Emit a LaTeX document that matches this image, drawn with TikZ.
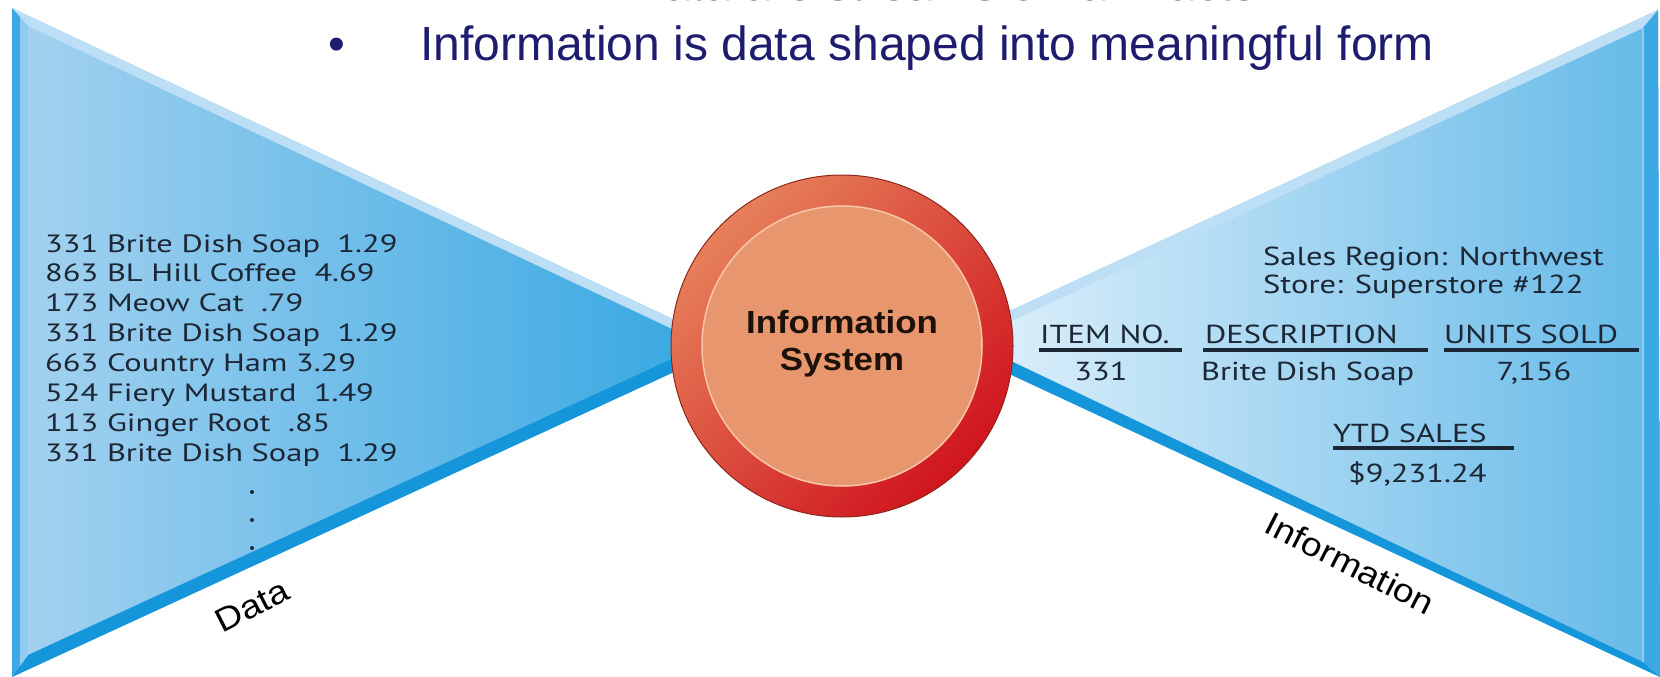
\documentclass[tikz,border=0pt]{standalone}
\usepackage{fontspec}
\setmainfont{Liberation Sans}
\newfontfamily\ptsans{PT Sans}
\usepackage{graphicx}
\definecolor{navy}{RGB}{30,28,110}
\definecolor{txtcol}{RGB}{28,38,52}
\definecolor{lwL}{RGB}{165,210,240}
\definecolor{lwR}{RGB}{55,168,226}
\definecolor{rwL}{RGB}{220,239,250}
\definecolor{rwR}{RGB}{100,185,232}
\definecolor{bandtop}{RGB}{188,223,245}
\definecolor{bandbot}{RGB}{22,150,218}
\definecolor{sideout}{RGB}{60,168,228}
\definecolor{sidein}{RGB}{145,204,240}
\definecolor{ringL}{RGB}{230,128,90}
\definecolor{ringR}{RGB}{208,20,30}
\definecolor{diskcol}{RGB}{232,150,110}
\definecolor{diskrim}{RGB}{248,198,168}
\definecolor{ringedge}{RGB}{140,40,30}
\newcommand{\wx}[1]{\scalebox{1.25}[1]{#1}}
\newcommand{\wdata}[1]{\scalebox{1.3}[1]{#1}}
\newcommand{\wlab}[1]{\scalebox{1.12}[1]{#1}}
\tikzset{
  titletext/.style={inner sep=0pt, text=navy, font=\fontsize{48}{56}\selectfont},
  datatext/.style={inner sep=0pt, anchor=base west, text=txtcol, font=\ptsans\fontsize{25}{30}\selectfont},
  infotext/.style={inner sep=0pt, text=txtcol, font=\ptsans\fontsize{26}{30}\selectfont},
  ulinestyle/.style={line width=3.5pt, draw=txtcol},
  labeltext/.style={inner sep=0pt, text=black, font=\fontsize{33}{36}\selectfont},
  systext/.style={inner sep=0pt, anchor=base, text={rgb,255:red,28;green,18;blue,10}, font=\bfseries\fontsize{32}{37}\selectfont}
}
\begin{document}
\begin{tikzpicture}[x=1pt,y=-1pt]
\useasboundingbox (0,0) rectangle (1660,677);
\begin{scope}
\clip (0,0) rectangle (1660,677);
% title lines
\node[titletext, anchor=base] (frag) at (943,0.5) {Data are streams of raw facts};
\node[titletext, anchor=base west] (bullet) at (328,61) {•};
\node[titletext, anchor=base west] (title) at (420,61) {Information is data shaped into meaningful form};
% left wedge
\shade[left color=lwL, right color=lwR] (12,8) -- (700,332) -- (700,360) -- (12,677) -- cycle;
\fill[bandtop] (12,8) -- (700,332) -- (700,342) -- (28,26) -- cycle;
\fill[bandbot] (12,677) -- (700,360) -- (700,346) -- (28,655) -- cycle;
\fill[sideout] (12,8) -- (20,17) -- (20,666) -- (12,677) -- cycle;
\fill[sidein] (20,17) -- (28,26) -- (28,655) -- (20,666) -- cycle;
% right wedge
\shade[left color=rwL, right color=rwR] (1658,10) -- (990,320) -- (990,365) -- (1660,677) -- cycle;
\fill[bandtop] (1658,10) -- (990,320) -- (990,331) -- (1643,28) -- cycle;
\fill[bandbot] (1660,677) -- (990,365) -- (990,351) -- (1643,662) -- cycle;
\fill[sideout] (1658,10) -- (1643,28) -- (1643,662) -- (1660,677) -- cycle;
\draw[sidein, line width=1.5pt] (1643,28) -- (1643,662);
% circle
\node[circle, minimum size=342pt, inner sep=0pt, outer sep=0pt, top color=ringL, bottom color=ringR, shading angle=45, draw=ringedge, line width=1pt] (sys) at (842,346) {};
\node[circle, minimum size=280pt, inner sep=0pt, outer sep=0pt, fill=diskcol, draw=diskrim, line width=1.5pt] (sysin) at (842,346) {};
\node[systext] (sys1) at (842,333) {\scalebox{1.09}[1]{Information}};
\node[systext] (sys2) at (842,370) {\scalebox{1.09}[1]{System}};
% data list
\foreach \t [count=\i from 0] in {331 Brite Dish Soap~~1.29, 863 BL Hill Coffee~~4.69, 173 Meow Cat~~.79, 331 Brite Dish Soap~~1.29, 663 Country Ham 3.29, 524 Fiery Mustard~~1.49, 113 Ginger Root~~.85, 331 Brite Dish Soap~~1.29}
  \node[datatext] (d\i) at (45,{252+29.9*\i}) {\wdata{\t}};
\fill[txtcol] (252,492) circle[radius=2pt];
\fill[txtcol] (252,520) circle[radius=2pt];
\fill[txtcol] (252,548) circle[radius=2pt];
\node[labeltext, rotate=27] (datalabel) at (252,606) {\wlab{Data}};
% information side
\node[infotext, anchor=base west] (region) at (1263,265) {\wx{Sales Region: Northwest}};
\node[infotext, anchor=base west] (store) at (1263,293) {\wx{Store: Superstore \#122}};
\node[infotext, anchor=base west] (hitem) at (1040,343) {\wx{ITEM NO.}};
\node[infotext, anchor=base west] (hdesc) at (1205,343) {\wx{DESCRIPTION}};
\node[infotext, anchor=base west] (hunits) at (1444,343) {\wx{UNITS SOLD}};
\draw[ulinestyle] (1039,350) -- (1182,350);
\draw[ulinestyle] (1203,350) -- (1428,350);
\draw[ulinestyle] (1444,350) -- (1639,350);
\node[infotext, anchor=base] (vitem) at (1101,380) {\wx{331}};
\node[infotext, anchor=base west] (vdesc) at (1201,380) {\wx{Brite Dish Soap}};
\node[infotext, anchor=base] (vunits) at (1534,380) {\wx{7,156}};
\node[infotext, anchor=base west] (hytd) at (1333,442) {\wx{YTD SALES}};
\draw[ulinestyle] (1333,448) -- (1514,448);
\node[infotext, anchor=base west] (vytd) at (1348,482) {\wx{\$9,231.24}};
\node[labeltext, rotate=-27] (infolabel) at (1350,563) {\wlab{Information}};
\end{scope}
\end{tikzpicture}
\end{document}
